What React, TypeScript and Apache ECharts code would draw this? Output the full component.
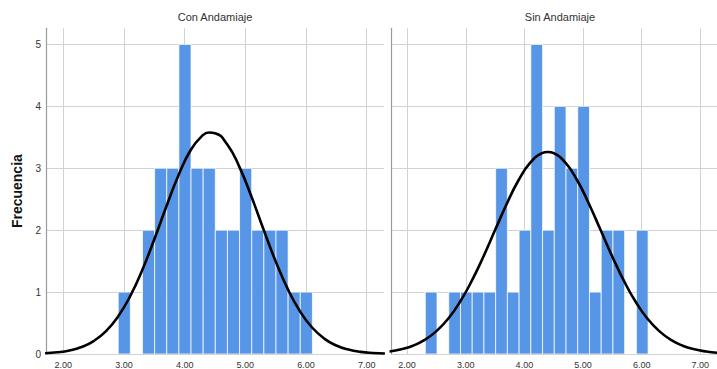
import React, { useEffect, useRef } from "react";
import * as echarts from "echarts";

// ---- data ----
const panelTitles = ["Con Andamiaje", "Sin Andamiaje"];
const yAxisName = "Frecuencia";
const binWidth = 0.2;

// Con Andamiaje histogram: first bin lower edge and counts per bin
const conFirstBin = 2.905;
const conCounts = [1, 0, 2, 3, 3, 5, 3, 3, 2, 2, 3, 2, 2, 2, 1, 1];

// Sin Andamiaje histogram
const sinFirstBin = 2.31;
const sinCounts = [1, 0, 1, 1, 1, 1, 3, 1, 2, 5, 2, 4, 3, 4, 1, 2, 2, 0, 2];

// Normal curves, values
const curveX = [
  1.7, 1.9, 2.1, 2.3, 2.5, 2.7, 2.9, 3.1, 3.3, 3.5, 3.7, 3.9, 4.1, 4.3, 4.4,
  4.5, 4.7, 4.9, 5.1, 5.3, 5.5, 5.7, 5.9, 6.1, 6.3, 6.5, 6.7, 6.9, 7.1, 7.3,
];
const conCurve = [
  0.012, 0.027, 0.057, 0.113, 0.209, 0.366, 0.601, 0.93, 1.353, 1.852, 2.385,
  2.89, 3.295, 3.534, 3.578, 3.567, 3.387, 3.026, 2.543, 2.011, 1.496, 1.047,
  0.69, 0.428, 0.249, 0.137, 0.071, 0.034, 0.016, 0.007,
];
const sinCurve = [
  0.04, 0.075, 0.134, 0.228, 0.369, 0.57, 0.839, 1.176, 1.571, 2.001, 2.427,
  2.806, 3.09, 3.243, 3.263, 3.243, 3.09, 2.806, 2.427, 2.001, 1.571, 1.176,
  0.839, 0.57, 0.369, 0.228, 0.134, 0.075, 0.04, 0.02,
];

const xTickLabels = ["2.00", "3.00", "4.00", "5.00", "6.00", "7.00"];

const BAR = "#5795e6";
const FONT = "'Liberation Sans', Arial, sans-serif";

function binsToData(first: number, counts: number[]) {
  const out: number[][] = [];
  counts.forEach((c, i) => {
    if (c > 0) {
      const lo = first + i * binWidth;
      out.push([lo, lo + binWidth, c]);
    }
  });
  return out;
}

export default function App() {
  const ref = useRef<HTMLDivElement>(null);

  useEffect(() => {
    document.body.style.margin = "0";
    if (!ref.current) return;
    const chart = echarts.init(ref.current, undefined, { renderer: "svg" });

    const xAxisCommon = (min: number, max: number, idx: number) => ({
      type: "value",
      gridIndex: idx,
      min,
      max,
      splitNumber: 5,
      axisLine: { show: false },
      axisTick: { show: false },
      axisLabel: {
        fontSize: 9,
        color: "#333",
        margin: 6,
        fontFamily: FONT,
        showMinLabel: false,
        showMaxLabel: false,
        formatter: (v: number) => {
          const s = v.toFixed(2);
          return Math.abs(v - Math.round(v)) < 1e-6 && xTickLabels.includes(s) ? s : "";
        },
      },
      splitLine: {
        show: true,
        showMinLine: false,
        showMaxLine: false,
        lineStyle: { color: "#d2d2d2", width: 1 },
      },
    });

    const yAxisCommon = (idx: number, showLabels: boolean) => ({
      type: "value",
      gridIndex: idx,
      min: 0,
      max: 5.26,
      interval: 1,
      name: showLabels ? yAxisName : "",
      nameLocation: "middle",
      nameGap: 22,
      nameTextStyle: {
        fontSize: 14,
        fontWeight: "bold",
        color: "#111",
        fontFamily: FONT,
      },
      axisLine: { show: true, lineStyle: { color: "#9a9a9a", width: 1.2 } },
      axisTick: { show: false },
      axisLabel: {
        show: showLabels,
        fontSize: 10,
        color: "#333",
        margin: 5,
        fontFamily: FONT,
        formatter: (v: number) =>
          Math.abs(v - Math.round(v)) < 1e-6 ? String(Math.round(v)) : "",
      },
      splitLine: {
        show: true,
        showMaxLine: false,
        lineStyle: { color: "#d2d2d2", width: 1 },
      },
    });

    const histSeries = (idx: number, data: number[][]) => ({
      type: "custom",
      xAxisIndex: idx,
      yAxisIndex: idx,
      clip: true,
      encode: { x: [0, 1], y: 2 },
      data,
      renderItem: (_p: any, api: any) => {
        const p0 = api.coord([api.value(0), api.value(2)]);
        const p1 = api.coord([api.value(1), 0]);
        return {
          type: "rect",
          shape: { x: p0[0], y: p0[1], width: p1[0] - p0[0], height: p1[1] - p0[1] },
          style: { fill: BAR, stroke: "rgba(255,255,255,0.75)", lineWidth: 1 },
        };
      },
      z: 2,
    });

    const curveSeries = (idx: number, ys: number[]) => ({
      type: "line",
      xAxisIndex: idx,
      yAxisIndex: idx,
      data: curveX.map((x, i) => [x, ys[i]]),
      smooth: true,
      showSymbol: false,
      symbol: "none",
      clip: true,
      lineStyle: { color: "#000", width: 2.6 },
      z: 3,
    });

    chart.setOption({
      animation: false,
      textStyle: { fontFamily: FONT },
      title: [
        {
          text: panelTitles[0],
          left: 215,
          top: 11,
          textAlign: "center",
          padding: 0,
          textStyle: { fontSize: 11, fontWeight: "normal", color: "#333", fontFamily: FONT },
        },
        {
          text: panelTitles[1],
          left: 560,
          top: 11,
          textAlign: "center",
          padding: 0,
          textStyle: { fontSize: 11, fontWeight: "normal", color: "#333", fontFamily: FONT },
        },
      ],
      grid: [
        { left: 46, right: 333, top: 28.3, bottom: 13, containLabel: false },
        { left: 391, right: -12, top: 28.3, bottom: 13, containLabel: false },
      ],
      xAxis: [xAxisCommon(1.715, 7.285, 0), xAxisCommon(1.725, 7.285, 1)],
      yAxis: [yAxisCommon(0, true), yAxisCommon(1, false)],
      series: [
        histSeries(0, binsToData(conFirstBin, conCounts)),
        histSeries(1, binsToData(sinFirstBin, sinCounts)),
        curveSeries(0, conCurve),
        curveSeries(1, sinCurve),
      ],
    });

    return () => chart.dispose();
  }, []);

  return <div ref={ref} style={{ width: 717, height: 369 }} />;
}
